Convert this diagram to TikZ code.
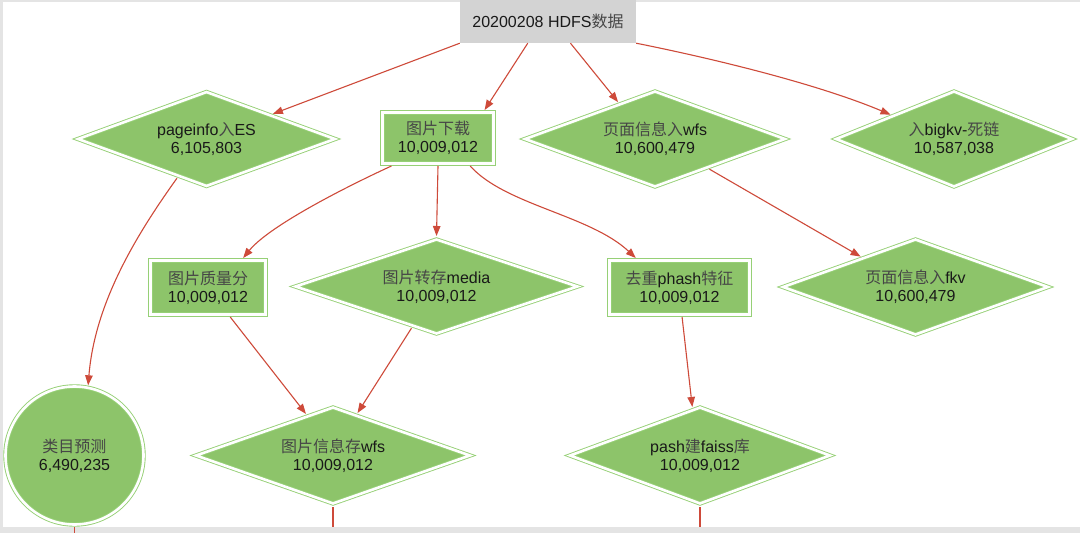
\documentclass[tikz,border=0pt]{standalone}
\usepackage{fontspec}
\setmainfont{Liberation Sans}
\newfontfamily\zhfont{Noto Sans CJK SC}
\usetikzlibrary{shapes.geometric,arrows.meta}
\definecolor{gfill}{RGB}{141,196,106}
\definecolor{gline}{RGB}{150,208,118}
\definecolor{ered}{RGB}{206,74,58}
\definecolor{topgray}{RGB}{211,211,211}
\definecolor{framegray}{RGB}{228,228,228}
\definecolor{zhgray}{RGB}{70,70,70}
\newcommand\zhtxt[1]{{\zhfont\color{zhgray}#1}}
\tikzset{
  lbl/.style={font=\fontsize{16}{18}\selectfont, align=center, text=black!90, inner sep=0pt},
  dbl/.style={lbl, fill=gfill, draw=gline, line width=0.9pt, double=white, double distance=2.6pt, outer sep=2.5pt},
  dnode/.style={dbl, diamond, shape aspect=2.5},
  rnode/.style={dbl, rectangle},
  cnode/.style={dbl, circle},
  topbox/.style={lbl, rectangle, fill=topgray, minimum width=176pt, minimum height=43pt},
  edgeline/.style={draw=ered, line width=1.1pt, -{Triangle[length=10pt,width=7.5pt]}},
  stub/.style={draw=ered, line width=1.1pt}
}
\begin{document}
\begin{tikzpicture}[x=1pt,y=-1pt]
\useasboundingbox (0,0) rectangle (1080,533);
\fill[framegray] (0,0) rectangle (1080,533);
\fill[white] (3,1.5) rectangle (1080,527);

\node[topbox] (top) at (548,21.5) {20200208 HDFS\zhtxt{数据}};

\node[dnode, minimum width=259pt, minimum height=96pt] (pi) at (206.5,139) {pageinfo\zhtxt{入}ES\\6,105,803};
\node[rnode, minimum width=111pt, minimum height=51pt] (dl) at (438,138) {\zhtxt{图片下载}\\10,009,012};
\node[dnode, minimum width=262pt, minimum height=97pt] (pw) at (655,139) {\zhtxt{页面信息入}wfs\\10,600,479};
\node[dnode, minimum width=238pt, minimum height=97pt] (bk) at (954,139) {\zhtxt{入}bigkv-\zhtxt{死链}\\10,587,038};

\node[rnode, minimum width=115pt, minimum height=54pt] (qual) at (208,287.5) {\zhtxt{图片质量分}\\10,009,012};
\node[dnode, minimum width=284pt, minimum height=96pt] (media) at (436.5,286.5) {\zhtxt{图片转存}media\\10,009,012};
\node[rnode, minimum width=140pt, minimum height=54pt] (ph) at (679.5,287.5) {\zhtxt{去重}phash\zhtxt{特征}\\10,009,012};
\node[dnode, minimum width=267pt, minimum height=97pt] (fkv) at (915.5,287) {\zhtxt{页面信息入}fkv\\10,600,479};

\node[cnode, minimum size=138pt] (cat) at (74.5,455.5) {\zhtxt{类目预测}\\6,490,235};
\node[dnode, minimum width=276pt, minimum height=98pt] (info) at (333,455.5) {\zhtxt{图片信息存}wfs\\10,009,012};
\node[dnode, minimum width=262pt, minimum height=98pt] (fs) at (700,455.5) {pash\zhtxt{建}faiss\zhtxt{库}\\10,009,012};

\coordinate (o1) at (74.5,533);
\coordinate (o2) at (333,527);
\coordinate (o3) at (700,527);

\draw[edgeline] (top.south west) -- (pi);
\draw[edgeline] (top.227) -- (dl.31);
\draw[edgeline] (top.316) -- (pw.135);
\draw[edgeline] (top.south east) .. controls (720,60) and (820,85) .. (bk.159);
\draw[edgeline] (pi.233) .. controls (140,230) and (95,300) .. (cat.79);
\draw[edgeline] (dl.211) .. controls (350,185) and (270,225) .. (qual.40);
\draw[edgeline] (dl.270) -- (media.90);
\draw[edgeline] (dl.319) .. controls (505,205) and (590,215) .. (ph.146);
\draw[edgeline] (pw.331) -- (fkv.151);
\draw[edgeline] (qual.307) -- (info.123);
\draw[edgeline] (media.239) -- (info.60);
\draw[edgeline] (ph.275) -- (fs.99);

\draw[stub] (cat.south) -- (o1);
\draw[stub] (info.south) -- (o2);
\draw[stub] (fs.south) -- (o3);
\end{tikzpicture}
\end{document}
